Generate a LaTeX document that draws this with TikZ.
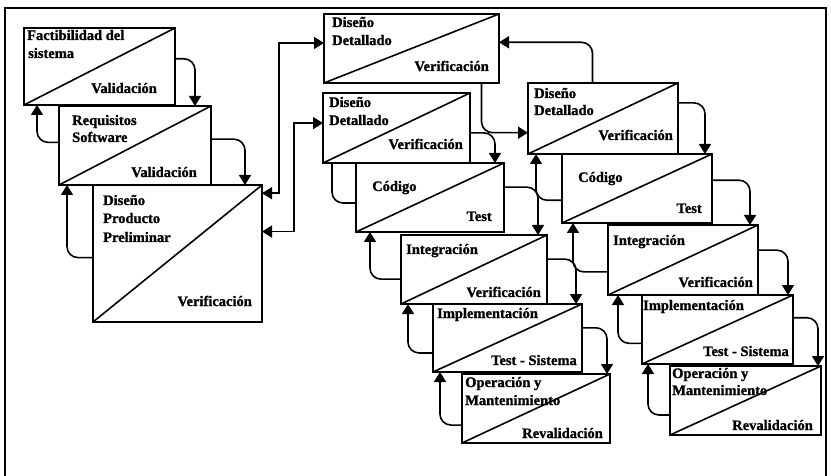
\documentclass[tikz,border=0pt]{standalone}
\usepackage{fontspec}
\setmainfont{Liberation Serif}[BoldFeatures={FakeBold=1.2}]
\usetikzlibrary{arrows.meta,calc}
\begin{document}
\begin{tikzpicture}[x=1pt,y=-1pt,
  stagebox/.style={draw, line width=2pt, inner sep=0pt, outer sep=0pt, anchor=north west},
  diag/.style={line width=1.6pt},
  lbl/.style={font=\fontsize{14.5}{18}\selectfont\bfseries, inner sep=0pt},
  tl/.style={lbl, anchor=base west},
  br/.style={lbl, anchor=base east},
  tip/.tip={Triangle[width=12pt,length=10pt]},
  flow/.style={line width=1.6pt, rounded corners=11pt, -tip},
  plain/.style={line width=1.6pt, rounded corners=11pt},
  link/.style={line width=1.6pt, tip-tip},
]
\useasboundingbox (0,0) rectangle (831,476);
% outer frame
\draw[line width=1.2pt] (5,480) -- (5,8) -- (826,8) -- (826,480);

% stage: name, x, y, width, height (box split by a diagonal)
\newcommand\stagecell[5]{%
  \node[stagebox, minimum width=#4pt, minimum height=#5pt] (#1) at (#2,#3) {};
  \draw[diag] (#1.south west) -- (#1.north east);}

% left cascade
\stagecell{A}{24}{28}{151}{77}
\stagecell{B}{59}{106}{152}{79}
\stagecell{C}{93}{185}{169}{137}
% middle cascade
\stagecell{D}{324}{14}{175}{69}
\stagecell{E}{323}{93}{147}{70}
\stagecell{F}{356}{163}{148}{69}
\stagecell{G}{401}{235}{146}{69}
\stagecell{H}{433}{304}{149}{68}
\stagecell{I}{462}{374}{148}{69}
% right cascade
\stagecell{J}{528}{83}{150}{71}
\stagecell{K}{562}{154}{150}{69}
\stagecell{L}{608}{225}{150}{70}
\stagecell{M}{642}{295}{151}{69}
\stagecell{N}{670}{366}{151}{69}

% labels
\node[tl] (a1) at (27,40) {Factibilidad del};
\node[tl] (a2) at (28,58) {sistema};
\node[br] (a3) at (157,93) {Validación};
\node[tl] (b1) at (72,125) {Requisitos};
\node[tl] (b2) at (72,142) {Software};
\node[br] (b3) at (197,177) {Validación};
\node[tl] (c1) at (103,205) {Diseño};
\node[tl] (c2) at (103,223) {Producto};
\node[tl] (c3) at (103,242) {Preliminar};
\node[br] (c4) at (252,306) {Verificación};
\node[tl] (d1) at (332,27) {Diseño};
\node[tl] (d2) at (332,45) {Detallado};
\node[br] (d3) at (489,71) {Verificación};
\node[tl] (e1) at (329,107) {Diseño};
\node[tl] (e2) at (329,125) {Detallado};
\node[br] (e3) at (463,149) {Verificación};
\node[tl] (f1) at (372,191) {Código};
\node[br] (f2) at (492,221) {Test};
\node[tl] (g1) at (406,254) {Integración};
\node[br] (g2) at (541,297) {Verificación};
\node[tl] (h1) at (437,318) {Implementación};
\node[br] (h2) at (577,365) {Test - Sistema};
\node[tl] (i1) at (465,387) {Operación y};
\node[tl] (i2) at (465,405) {Mantenimiento};
\node[br] (i3) at (603,438) {Revalidación};
\node[tl] (j1) at (534,98) {Diseño};
\node[tl] (j2) at (534,115) {Detallado};
\node[br] (j3) at (673,140) {Verificación};
\node[tl] (k1) at (578,182) {Código};
\node[br] (k2) at (702,213) {Test};
\node[tl] (l1) at (613,245) {Integración};
\node[br] (l2) at (753,287) {Verificación};
\node[tl] (m1) at (643,310) {Implementación};
\node[br] (m2) at (789,356) {Test - Sistema};
\node[tl] (n1) at (672,378) {Operación y};
\node[tl] (n2) at (672,395) {Mantenimiento};
\node[br] (n3) at (813,430) {Revalidación};

% forward steps (right side down to next stage)
\draw[flow] ($(A.north east)!0.40!(A.south east)$) -| ([xshift=-16pt]B.north east);
\draw[flow] ($(B.north east)!0.42!(B.south east)$) -| ([xshift=-17pt]C.north east);
\draw[flow] ($(E.north east)!0.57!(E.south east)$) -| ([xshift=-9pt]F.north east);
\draw[flow] ($(F.north east)!0.35!(F.south east)$) -| ([xshift=-9pt]G.north east);
\draw[flow] ($(G.north east)!0.35!(G.south east)$) -| ([xshift=-6pt]H.north east);
\draw[flow] ($(H.north east)!0.35!(H.south east)$) -| ([xshift=-3pt]I.north east);
\draw[flow] ($(J.north east)!0.28!(J.south east)$) -| ([xshift=-7pt]K.north east);
\draw[flow] ($(K.north east)!0.38!(K.south east)$) -| ([xshift=-8pt]L.north east);
\draw[flow] ($(L.north east)!0.36!(L.south east)$) -| ([xshift=-5pt]M.north east);
\draw[flow] ($(M.north east)!0.33!(M.south east)$) -| ([xshift=-3pt]N.north east);

% feedback steps (left side up to previous stage)
\draw[flow] ($(B.north west)!0.46!(B.south west)$) -| ([xshift=13pt]A.south west);
\draw[flow] ($(C.north west)!0.53!(C.south west)$) -| ([xshift=8pt]B.south west);
\draw[plain] ($(F.north west)!0.58!(F.south west)$) -| ([xshift=9pt]E.south west);
\draw[flow] ($(G.north west)!0.64!(G.south west)$) -| ([xshift=14pt]F.south west);
\draw[flow] ($(H.north west)!0.72!(H.south west)$) -| ([xshift=7pt]G.south west);
\draw[flow] ($(I.north west)!0.74!(I.south west)$) -| ([xshift=7pt]H.south west);
\draw[flow] ($(K.north west)!0.67!(K.south west)$) -| ([xshift=8pt]J.south west);
\draw[flow] ($(L.north west)!0.67!(L.south west)$) -| ([xshift=11pt]K.south west);
\draw[flow] ($(M.north west)!0.70!(M.south west)$) -| ([xshift=10pt]L.south west);
\draw[flow] ($(N.north west)!0.71!(N.south west)$) -| ([xshift=6pt]M.south west);

% links between the cascades
\draw[link] ($(C.north east)!0.06!(C.south east)$) -| ($(D.north west)!0.42!(D.south west)+(-45,0)$) -- ($(D.north west)!0.42!(D.south west)$);
\draw[link] ($(C.north east)!0.34!(C.south east)$) -| ($(E.north west)!0.43!(E.south west)+(-29,0)$) -- ($(E.north west)!0.43!(E.south west)$);
\draw[flow] ($(D.south west)!0.90!(D.south east)$) |- ($(J.north west)!0.70!(J.south west)$);
\draw[flow] ($(J.north west)!0.43!(J.north east)$) |- ($(D.north east)!0.41!(D.south east)$);
\end{tikzpicture}
\end{document}
